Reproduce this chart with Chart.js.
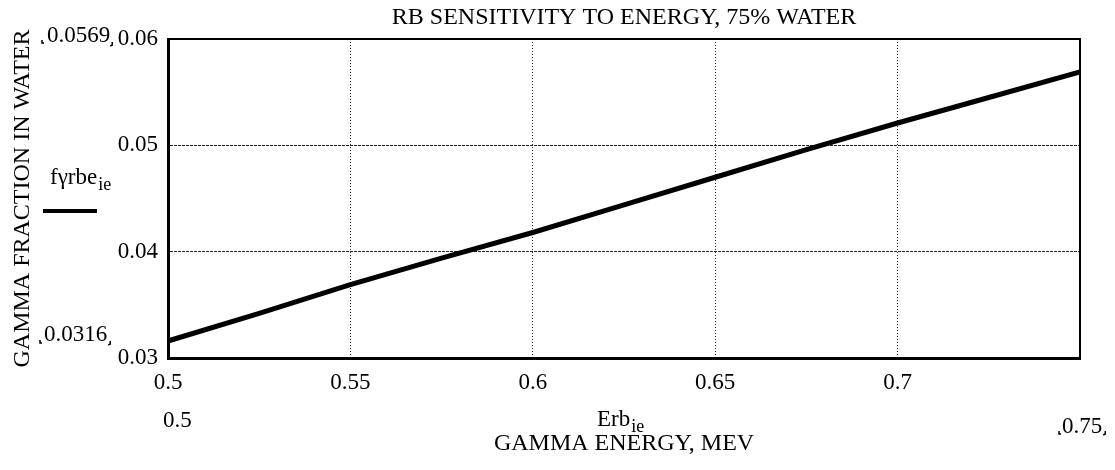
<!DOCTYPE html>
<html>
<head>
<meta charset="utf-8">
<script src="https://cdn.jsdelivr.net/npm/chart.js@4/dist/chart.umd.min.js"></script>
<style>
  body { margin: 0; background: #fff; }
  canvas { display: block; }
</style>
</head>
<body>
<canvas id="rbChart" width="1115" height="470"></canvas>
<script>
// Rb sensitivity data: gamma energy (MeV) vs gamma fraction in water
const energy = [0.5, 0.525, 0.55, 0.575, 0.6, 0.625, 0.65, 0.675, 0.7, 0.725, 0.75];
const gammaFraction = [0.0316, 0.0342, 0.0369, 0.0394, 0.0418, 0.0444, 0.0470, 0.0496, 0.0521, 0.0545, 0.0569];

// tick values on each axis
const xTicks = [0.5, 0.55, 0.6, 0.65, 0.7, 0.75];
const yTicks = [0.03, 0.04, 0.05, 0.06];

const serif = '"Liberation Serif", "Times New Roman", serif';

// dotted grid, hidden on the frame edges
const gridColor = (context) => {
    const last = context.scale.ticks.length - 1;
    if (context.index === 0 || context.index === last) return 'rgba(0,0,0,0)';
    return 'rgba(0,0,0,0.85)';
};

// text with a subscript, e.g. Erb_ie
function subText(ctx, main, sub, x, y) {
    ctx.font = '23px ' + serif;
    ctx.fillText(main, x, y);
    const w = ctx.measureText(main).width;
    ctx.font = '18px ' + serif;
    ctx.fillText(sub, x + w + 1, y + 7);
}

// small corner marks around range values
function markL(ctx, x, y) {
    ctx.beginPath();
    ctx.moveTo(x, y - 3);
    ctx.lineTo(x, y);
    ctx.lineTo(x + 2, y);
    ctx.stroke();
}
function markR(ctx, x, y) {
    ctx.beginPath();
    ctx.moveTo(x, y - 3);
    ctx.lineTo(x, y);
    ctx.lineTo(x - 2, y + 1);
    ctx.stroke();
}

const mathcadLabels = {
    id: 'mathcadLabels',
    afterDraw(chart) {
        const ctx = chart.ctx;
        const area = chart.chartArea;
        ctx.save();

        // top and right frame lines
        ctx.strokeStyle = '#000';
        ctx.lineWidth = 2;
        ctx.setLineDash([]);
        ctx.beginPath();
        ctx.moveTo(area.left, area.top);
        ctx.lineTo(area.right, area.top);
        ctx.lineTo(area.right, area.bottom);
        ctx.stroke();

        ctx.fillStyle = '#000';
        ctx.textBaseline = 'middle';
        ctx.textAlign = 'left';
        ctx.font = '23px ' + serif;

        // y range values
        const yMax = String(Math.max(...gammaFraction));
        const yMin = String(Math.min(...gammaFraction));
        ctx.fillText(yMax, 47, 36);
        ctx.fillText(yMin, 44, 335);

        // x range values
        const xMin = String(energy[0]);
        const xMax = String(energy[energy.length - 1]);
        ctx.fillText(xMin, 163, 421);
        ctx.fillText(xMax, 1062, 427);

        ctx.lineWidth = 1.5;
        const wMax = ctx.measureText(yMax).width;
        const wMin = ctx.measureText(yMin).width;
        const wX = ctx.measureText(xMax).width;
        markL(ctx, 42, 43);
        markR(ctx, 47 + wMax + 2, 45);
        markL(ctx, 40, 343);
        markR(ctx, 44 + wMin + 3, 344);
        markL(ctx, 1059, 434);
        markR(ctx, 1062 + wX + 3, 434);

        // trace legend
        subText(ctx, 'f\u03B3rbe', 'ie', 50, 178);
        ctx.lineWidth = 4;
        ctx.beginPath();
        ctx.moveTo(43, 211);
        ctx.lineTo(97, 211);
        ctx.stroke();

        // x variable name
        subText(ctx, 'Erb', 'ie', 597, 420);

        ctx.restore();
    }
};

const rbConfig = {
    type: 'line',
    data: {
        datasets: [{
            label: 'fyrbe',
            data: energy.map((e, i) => ({ x: e, y: gammaFraction[i] })),
            borderColor: '#000',
            borderWidth: 5,
            pointRadius: 0,
            tension: 0,
            fill: false
        }]
    },
    options: {
        responsive: false,
        animation: false,
        layout: {
            padding: { left: 0, right: 35, top: 0, bottom: 0 }
        },
        scales: {
            x: {
                type: 'linear',
                min: 0.5,
                max: 0.75,
                afterBuildTicks: (scale) => {
                    scale.ticks = xTicks.map(v => ({ value: v }));
                },
                afterFit: (scale) => {
                    scale.height = 112;
                },
                ticks: {
                    color: '#000',
                    font: { family: serif, size: 23 },
                    padding: 11,
                    maxRotation: 0,
                    autoSkip: false,
                    callback: (value) => value === 0.75 ? '' : String(value)
                },
                grid: {
                    color: gridColor,
                    lineWidth: 1,
                    drawTicks: false
                },
                border: {
                    color: '#000',
                    width: 3,
                    dash: [1, 2]
                },
                title: {
                    display: true,
                    text: 'GAMMA ENERGY, MEV',
                    color: '#000',
                    font: { family: serif, size: 24 },
                    padding: { top: 0, bottom: 12 }
                }
            },
            y: {
                min: 0.03,
                max: 0.06,
                afterBuildTicks: (scale) => {
                    scale.ticks = yTicks.map(v => ({ value: v }));
                },
                afterFit: (scale) => {
                    scale.width = 168;
                },
                ticks: {
                    color: '#000',
                    font: { family: serif, size: 23 },
                    padding: 10,
                    callback: (value) => String(value)
                },
                grid: {
                    color: gridColor,
                    lineWidth: 1,
                    drawTicks: false
                },
                border: {
                    color: '#000',
                    width: 3,
                    dash: [3, 1]
                },
                title: {
                    display: true,
                    text: 'GAMMA FRACTION IN WATER',
                    color: '#000',
                    font: { family: serif, size: 24 },
                    padding: { top: 8, bottom: 0 }
                }
            }
        },
        plugins: {
            legend: { display: false },
            tooltip: { enabled: false },
            title: {
                display: true,
                fullSize: false,
                text: 'RB SENSITIVITY TO ENERGY, 75% WATER',
                color: '#000',
                font: { family: serif, size: 24, weight: 'normal' },
                padding: { top: 3, bottom: 7.2 }
            }
        }
    },
    plugins: [mathcadLabels]
};

const rbChart = new Chart(
    document.getElementById('rbChart'),
    rbConfig
);
</script>
</body>
</html>
